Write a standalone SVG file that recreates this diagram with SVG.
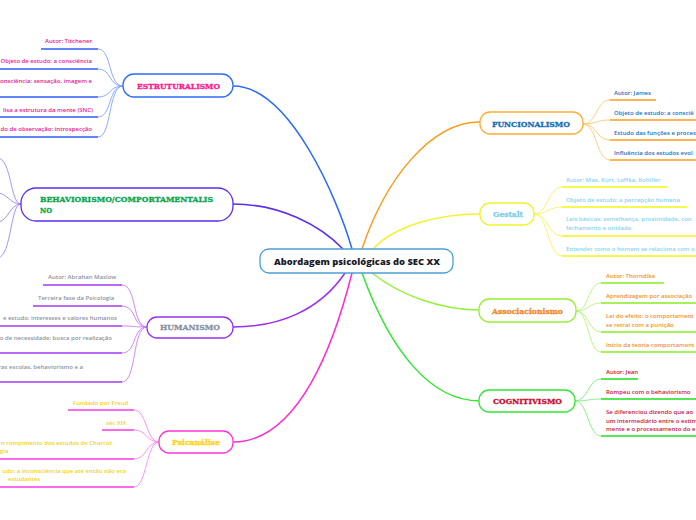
<svg xmlns="http://www.w3.org/2000/svg" width="696" height="520" viewBox="0 0 696 520">
<style>
.node{fill:#fff;stroke-width:1.3}
.h{font-family:"DejaVu Serif",serif;font-weight:bold;font-size:8px;stroke-width:0.35}
.s{font-family:"Open Sans","Liberation Sans",sans-serif;font-size:6px;font-weight:600}
.ul{stroke-width:1.6;fill:none}
.cn{fill:none;stroke-width:0.9}
.mc{fill:none;stroke-width:1.5}
</style>
<rect width="696" height="520" fill="#fff"/>
<g id="connectors">
<path class="mc" stroke="#2b6cf6" d="M233,86 C290,86 338,200 352,249"/>
<path class="mc" stroke="#5a2df0" d="M233,204 C280,204 320,225 343,249"/>
<path class="mc" stroke="#ff9a1a" d="M480,122 C430,122 385,180 362,249"/>
<path class="mc" stroke="#f2f22a" d="M480,214 C440,214 395,225 373,249"/>
<path class="mc" stroke="#9b2ef0" d="M233,327 C280,327 320,310 345,273"/>
<path class="mc" stroke="#ff2ad4" d="M233,442 C300,442 335,340 352,273"/>
<path class="mc" stroke="#99f03a" d="M480,310 C440,310 400,295 372,273"/>
<path class="mc" stroke="#33e633" d="M480,401 C430,401 390,350 362,273"/>
<g stroke="#7fa4ff">
<path class="cn" d="M123,86 C108,86 112,49 98,49"/>
<path class="cn" d="M123,86 C108,86 112,69 98,69"/>
<path class="cn" d="M123,86 C108,86 112,97 98,97"/>
<path class="cn" d="M123,86 C108,86 112,117 98,117"/>
<path class="cn" d="M123,86 C108,86 112,137 98,137"/>
</g>
<g stroke="#9a88f8">
<path class="cn" d="M21,204 C10,204 12,160 -2,158"/>
<path class="cn" d="M21,204 C10,204 8,194 -2,193"/>
<path class="cn" d="M21,204 C10,204 8,221 -2,222"/>
<path class="cn" d="M21,204 C10,204 12,255 -2,258"/>
</g>
<g stroke="#c77cf5">
<path class="cn" d="M147,327 C132,327 137,285 122,285"/>
<path class="cn" d="M147,327 C132,327 137,306 122,306"/>
<path class="cn" d="M147,327 C132,327 137,326 122,326"/>
<path class="cn" d="M147,327 C132,327 137,353 122,353"/>
<path class="cn" d="M147,327 C132,327 137,382 122,382"/>
</g>
<g stroke="#ff88ee">
<path class="cn" d="M159,442 C146,442 147,410 134,410"/>
<path class="cn" d="M159,442 C146,442 147,430 134,430"/>
<path class="cn" d="M159,442 C146,442 147,459 134,459"/>
<path class="cn" d="M159,442 C146,442 147,487 134,487"/>
</g>
<g stroke="#ffc870">
<path class="cn" d="M583,124 C597,124 596,100 610,100"/>
<path class="cn" d="M583,124 C597,124 596,120 610,120"/>
<path class="cn" d="M583,124 C597,124 596,140 610,140"/>
<path class="cn" d="M583,124 C597,124 596,160 610,160"/>
</g>
<g stroke="#f5f560">
<path class="cn" d="M534,214 C548,214 548,187 562,187"/>
<path class="cn" d="M534,214 C548,214 548,207 562,207"/>
<path class="cn" d="M534,214 C548,214 548,236 562,236"/>
<path class="cn" d="M534,214 C548,214 548,256 562,256"/>
</g>
<g stroke="#b8f27a">
<path class="cn" d="M576,311 C589,311 588,283 601,283"/>
<path class="cn" d="M576,311 C589,311 588,303 601,303"/>
<path class="cn" d="M576,311 C589,311 588,332 601,332"/>
<path class="cn" d="M576,311 C589,311 588,352 601,352"/>
</g>
<g stroke="#7cf07c">
<path class="cn" d="M575,401 C588,401 588,379 601,379"/>
<path class="cn" d="M575,401 C588,401 588,399 601,399"/>
<path class="cn" d="M575,401 C588,401 588,436 601,436"/>
</g>
</g>

<g id="center">
<rect class="node" x="260" y="249" width="193" height="24" rx="9" stroke="#4a9fd8"/>
<text x="274" y="265" font-family="'Open Sans','Liberation Sans',sans-serif" font-weight="800" font-size="8.5" fill="#1a1a2a" textLength="166" lengthAdjust="spacingAndGlyphs">Abordagem psicológicas do SEC XX</text>
</g>

<g id="estruturalismo">
<rect class="node" x="123" y="74" width="110" height="23" rx="11" stroke="#2b6cf6"/>
<text class="h" x="137" y="89" fill="#ff1a8c" stroke="#ff1a8c" textLength="83" lengthAdjust="spacingAndGlyphs">ESTRUTURALISMO</text>
<g class="s" fill="#e6168f">
<text x="45" y="43">Autor: Titchener</text>
<text x="92" y="63" text-anchor="end">Objeto de estudo: a consciência</text>
<text x="92" y="83" text-anchor="end">consciência: sensação, imagem e</text>
<text x="93" y="112" text-anchor="end">lisa a estrutura da mente (SNC)</text>
<text x="92" y="131" text-anchor="end">do de observação: introspecção</text>
</g>
<g class="ul" stroke="#2f5ff0">
<path d="M41,49H98M-2,69H98M-2,97H98M-2,117H98M-2,137H98"/>
</g>
</g>

<g id="behaviorismo">
<rect class="node" x="21" y="188" width="212" height="33" rx="15" stroke="#5a2df0"/>
<text class="h" x="40" y="202" fill="#0aa650" stroke="#0aa650" textLength="173" lengthAdjust="spacingAndGlyphs">BEHAVIORISMO/COMPORTAMENTALIS</text>
<text class="h" x="40" y="213" fill="#0aa650" stroke="#0aa650" textLength="12" lengthAdjust="spacingAndGlyphs">NO</text>
</g>

<g id="humanismo">
<rect class="node" x="147" y="317" width="86" height="21" rx="10" stroke="#9b2ef0"/>
<text class="h" x="160" y="330" fill="#8a93a3" stroke="#8a93a3" textLength="60" lengthAdjust="spacingAndGlyphs">HUMANISMO</text>
<g class="s" fill="#8c93a0">
<text x="48" y="279">Autor: Abrahan Maslow</text>
<text x="38" y="300">Terceira fase da Psicologia</text>
<text x="117" y="320" text-anchor="end">e estudo: interesses e valores humanos</text>
<text x="112" y="340" text-anchor="end">o de necessidade: busca por realização</text>
<text x="83" y="369" text-anchor="end">ras escolas, behaviorismo e a</text>
</g>
<g class="ul" stroke="#a23df0">
<path d="M43,285H122M33,306H122M-2,326H122M-2,353H122M-2,382H122"/>
</g>
</g>

<g id="psicanalise">
<rect class="node" x="159" y="431" width="74" height="22" rx="10" stroke="#ff33dd"/>
<text class="h" x="172" y="445" fill="#ffd21a" stroke="#ffd21a" font-size="9" textLength="48" lengthAdjust="spacingAndGlyphs">Psicanálise</text>
<g class="s" fill="#f2d21a">
<text x="73" y="405">Fundado por Freud</text>
<text x="106" y="425">séc XIX</text>
<text x="112" y="445" text-anchor="end">n rompimento dos estudos de Charcot</text>
<text x="0" y="453">gia</text>
<text x="126" y="473" text-anchor="end">udo: a inconsciência que até então não era</text>
<text x="8" y="481">estudantes</text>
</g>
<g class="ul" stroke="#ff3ae8">
<path d="M68,410H134M102,430H134M-2,459H134M-2,487H134"/>
</g>
</g>

<g id="funcionalismo">
<rect class="node" x="480" y="112" width="103" height="22" rx="10" stroke="#ffad33"/>
<text class="h" x="492" y="127" fill="#1a6fb5" stroke="#1a6fb5" textLength="78" lengthAdjust="spacingAndGlyphs">FUNCIONALISMO</text>
<g class="s" fill="#1a6fc0">
<text x="614" y="95">Autor: James</text>
<text x="614" y="115">Objeto de estudo: a consciê</text>
<text x="614" y="135">Estudo das funções e proces</text>
<text x="614" y="155">Influência dos estudos evol</text>
</g>
<g class="ul" stroke="#ff9f1a">
<path d="M610,100H656M610,120H700M610,140H700M610,160H700"/>
</g>
</g>

<g id="gestalt">
<rect class="node" x="480" y="203" width="54" height="22" rx="10" stroke="#f2f22a"/>
<text class="h" x="493" y="217" fill="#7fd0ee" stroke="#7fd0ee" textLength="30" lengthAdjust="spacingAndGlyphs">Gestalt</text>
<g class="s" fill="#86d3f2">
<text x="566" y="182">Autor: Max, Kurt, Loffka, Kohiller</text>
<text x="566" y="202">Objeto de estudo: a percepção humana</text>
<text x="566" y="221">Leis básicas: semelhança, proximidade, con</text>
<text x="566" y="230">fechamento e unidade</text>
<text x="566" y="251">Entender como o homem se relaciona com o</text>
</g>
<g class="ul" stroke="#f5f51a">
<path d="M562,187H667M562,207H687M562,236H700M562,256H700"/>
</g>
</g>

<g id="associacionismo">
<rect class="node" x="479" y="299" width="97" height="23" rx="10" stroke="#99ee33"/>
<text class="h" x="492" y="314" fill="#f08a30" stroke="#f08a30" textLength="71" lengthAdjust="spacingAndGlyphs">Associacionismo</text>
<g class="s" fill="#f0902e">
<text x="606" y="278">Autor: Thorndike</text>
<text x="606" y="298">Aprendizagem por associação</text>
<text x="606" y="318">Lei do efeito: o comportament</text>
<text x="606" y="327">se retrai com a punição</text>
<text x="606" y="347">Início da teoria comportament</text>
</g>
<g class="ul" stroke="#88ee22">
<path d="M601,283H664M601,303H700M601,332H700M601,352H700"/>
</g>
</g>

<g id="cognitivismo">
<rect class="node" x="479" y="390" width="96" height="22" rx="10" stroke="#33e633"/>
<text class="h" x="493" y="404" fill="#c8102e" stroke="#c8102e" textLength="69" lengthAdjust="spacingAndGlyphs">COGNITIVISMO</text>
<g class="s" fill="#c8143c">
<text x="606" y="374">Autor: Jean</text>
<text x="606" y="394">Rompeu com o behaviorismo</text>
<text x="606" y="414">Se diferenciou dizendo que ao</text>
<text x="606" y="423">um intermediário entre o estím</text>
<text x="606" y="431">mente e o processamento do e</text>
</g>
<g class="ul" stroke="#22dd22">
<path d="M601,379H638M601,399H700M601,436H700"/>
</g>
</g>
</svg>
